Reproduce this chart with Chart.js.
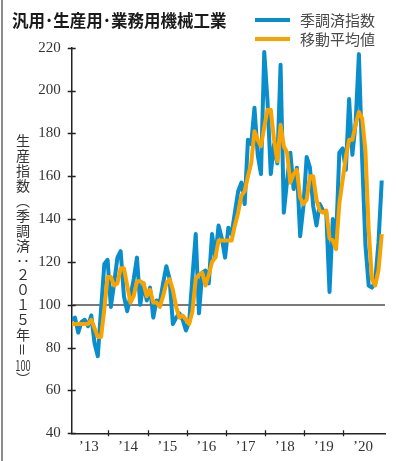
<!DOCTYPE html>
<html lang="ja">
<head>
<meta charset="utf-8">
<title>汎用･生産用･業務用機械工業</title>
<script src="https://cdn.jsdelivr.net/npm/chart.js@4.4.1/dist/chart.umd.min.js"></script>
<style>
  html, body { margin: 0; padding: 0; background: #fff; }
  #wrap { position: relative; width: 398px; height: 461px; overflow: hidden; background: #fff; }
  #wrap::before { content: ""; position: absolute; left: 1px; top: 0; bottom: 0; width: 1.5px; background: #8c8c8c; }
  #chart { position: absolute; left: 0; top: 0; }
  .title {
    position: absolute; left: 12px; top: 8px;
    font: 700 16.5px "Noto Sans CJK JP", sans-serif; color: #1a1a1a; white-space: nowrap; line-height: 24px;
  }
  .legend { position: absolute; left: 255px; top: 10px; font: 400 15px "Noto Sans CJK JP", sans-serif; color: #4a4a4a; }
  .legend .row { display: flex; align-items: center; height: 19px; }
  .legend .sw { width: 35px; height: 4px; margin-right: 10px; }
  .ytitle {
    position: absolute; left: 15px; top: 134px;
    writing-mode: vertical-rl; text-orientation: mixed; white-space: nowrap;
    font: 400 14px "Noto Sans CJK JP", sans-serif; color: #333; letter-spacing: 0.9px; line-height: 16px;
  }
  .tcy { text-combine-upright: all; }
</style>
</head>
<body>
<div id="wrap">
  <canvas id="chart" width="398" height="461"></canvas>
  <div class="title">汎用･生産用･業務用機械工業</div>
  <div class="legend">
    <div class="row"><span class="sw" style="background:#0a8dcb"></span><span>季調済指数</span></div>
    <div class="row"><span class="sw" style="background:#f8a300"></span><span>移動平均値</span></div>
  </div>
  <div class="ytitle">生産指数（季調済：２０１５年＝<span class="tcy">100</span>）</div>
</div>
<script>
// Monthly index, Jan 2013 – Dec 2020 (seasonally adjusted, 2015 = 100)
const yearLabels = ["’13", "’14", "’15", "’16", "’17", "’18", "’19", "’20"];

const seasonalIndex = [
  93, 94, 87, 92, 93, 90, 95, 82, 76, 98, 119, 121,        // 2013
  99, 110, 122, 125, 104, 97, 104, 112, 122, 100, 110, 102, // 2014
  108, 94, 102, 101, 110, 118, 112, 91, 94, 96, 93, 88,    // 2015
  92, 113, 133, 96, 115, 116, 110, 133, 122, 137, 131, 122, // 2016
  136, 133, 143, 153, 157, 147, 177, 175, 192, 170, 161, 218, // 2017
  195, 161, 175, 166, 212, 143, 158, 171, 154, 164, 132, 146, // 2018
  169, 164, 146, 137, 147, 144, 143, 106, 140, 130, 171, 173, // 2019
  163, 196, 170, 185, 217, 168, 128, 109, 108, 111, 129, 158  // 2020
];

const movingAverage = [
  91, 91, 91, 91, 91, 91, 93, 89, 85, 85, 98, 113,
  113, 109, 110, 117, 117, 109, 101, 104, 111, 111, 110, 104,
  107, 101, 101, 99, 104, 110, 112, 107, 99, 94, 95, 93,
  91, 97, 112, 114, 115, 109, 114, 120, 122, 130, 130, 130,
  130, 130, 137, 143, 151, 153, 160, 166, 181, 177, 174, 183,
  191, 191, 177, 167, 184, 174, 171, 157, 161, 163, 150, 147,
  149, 160, 160, 149, 144, 143, 144, 131, 130, 126, 147, 158,
  169, 177, 177, 184, 190, 187, 172, 135, 112, 109, 116, 133
];

const yTickValues = [40, 60, 80, 100, 120, 140, 160, 180, 200, 220];

const BLUE = '#0a8dcb';
const ORANGE = '#f8a300';
const AXIS = '#222';

// Month index where each year's label sits and where its boundary mark goes
const yearCenters = yearLabels.map((_, k) => 12 * k + 5.25);
const yearBounds = yearLabels.slice(1).map((_, k) => 12 * (k + 1) - 0.75);

const toPoints = arr => arr.map((v, i) => ({ x: i, y: v }));

// Short tick marks crossing both axes
const crossTicks = {
  id: 'crossTicks',
  beforeDatasetsDraw(chart) {
    const { ctx, chartArea, scales: { x, y } } = chart;
    ctx.save();
    ctx.strokeStyle = AXIS;
    ctx.lineWidth = 1.3;
    ctx.beginPath();
    y.ticks.forEach(t => {
      const py = Math.round(y.getPixelForValue(t.value)) + 0.5;
      ctx.moveTo(chartArea.left - 4, py);
      ctx.lineTo(chartArea.left + 4, py);
    });
    yearBounds.forEach(v => {
      const px = Math.round(x.getPixelForValue(v)) + 0.5;
      ctx.moveTo(px, chartArea.bottom - 3);
      ctx.lineTo(px, chartArea.bottom + 3);
    });
    ctx.stroke();
    ctx.restore();
  }
};

new Chart(document.getElementById('chart'), {
  type: 'line',
  data: {
    datasets: [
      {
        label: '移動平均値',
        data: toPoints(movingAverage),
        borderColor: ORANGE,
        borderWidth: 4,
        pointRadius: 0,
        tension: 0,
        borderJoinStyle: 'round',
        borderCapStyle: 'butt',
        order: 0
      },
      {
        label: '季調済指数',
        data: toPoints(seasonalIndex),
        borderColor: BLUE,
        borderWidth: 4,
        pointRadius: 0,
        tension: 0,
        borderJoinStyle: 'round',
        borderCapStyle: 'butt',
        order: 1
      }
    ]
  },
  options: {
    responsive: false,
    animation: false,
    devicePixelRatio: 1,
    layout: { padding: { top: 47.7, right: 13, bottom: 0, left: 0 } },
    plugins: {
      legend: { display: false },
      title: { display: false },
      tooltip: { enabled: false }
    },
    scales: {
      x: {
        type: 'linear',
        min: 0,
        max: 96,
        grid: { display: false, drawTicks: false },
        border: { display: true, color: AXIS, width: 1.5 },
        afterBuildTicks: s => { s.ticks = yearCenters.map(v => ({ value: v })); },
        afterFit: s => { s.height = 27.7; },
        ticks: {
          autoSkip: false,
          maxRotation: 0,
          padding: 5,
          color: '#333',
          font: { family: '"Liberation Serif", serif', size: 15 },
          callback: (v, i) => yearLabels[i]
        }
      },
      y: {
        min: 40,
        max: 220,
        grid: {
          drawTicks: false,
          color: c => (c.tick && c.tick.value === 100 ? '#7a7a7a' : 'rgba(0,0,0,0)'),
          lineWidth: 2
        },
        border: { display: true, color: AXIS, width: 1.5 },
        afterBuildTicks: s => { s.ticks = yTickValues.map(v => ({ value: v })); },
        afterFit: s => { s.width = 71.7; },
        ticks: {
          padding: 11,
          color: '#333',
          font: { family: '"Liberation Serif", serif', size: 15 }
        }
      }
    }
  },
  plugins: [crossTicks]
});
</script>
</body>
</html>
